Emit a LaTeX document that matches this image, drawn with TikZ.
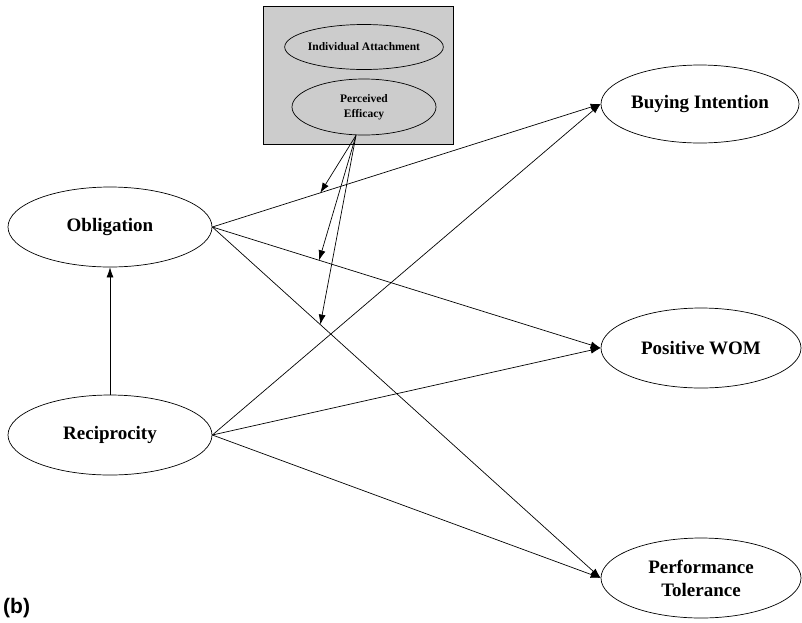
\documentclass[tikz,border=0pt]{standalone}
\usepackage{fontspec}
\setmainfont{Liberation Serif}
\setsansfont{Liberation Sans}
\usetikzlibrary{arrows.meta,calc,shapes.geometric}
\begin{document}
\begin{tikzpicture}[x=1pt,y=-1pt,
  lat/.style={draw,ellipse,line width=0.7pt,align=center,font=\bfseries\fontsize{19}{21}\selectfont,inner sep=0pt},
  modl/.style={draw,ellipse,line width=0.7pt,fill=boxgray,align=center,font=\bfseries\fontsize{11.5}{15}\selectfont,inner sep=0pt},
  path/.style={line width=0.7pt,-{Latex[length=10pt,width=7pt]}}]
\definecolor{boxgray}{RGB}{204,204,204}
\useasboundingbox (0,0) rectangle (802,622);
\node (box) [draw,fill=boxgray,line width=0.8pt,minimum width=190pt,minimum height=138pt,inner sep=0pt] at (358,75) {};
\node (ia) [modl,minimum width=144pt,minimum height=45pt] at (364,47) {Individual Attachment};
\node (pe) [modl,minimum width=144pt,minimum height=56pt] at (364,107) {Perceived\\Efficacy};
\node (obl) [lat,minimum width=204pt,minimum height=80pt] at (110,227) {Obligation};
\node (rec) [lat,minimum width=204pt,minimum height=80pt] at (110,435) {Reciprocity};
\node (bi) [lat,minimum width=198pt,minimum height=78pt] at (700,104) {Buying Intention};
\node (wom) [lat,minimum width=200pt,minimum height=80pt] at (701,348) {Positive WOM};
\node (pt) [lat,minimum width=200pt,minimum height=80pt,font=\bfseries\fontsize{19}{23}\selectfont] at (701,578) {Performance\\Tolerance};
\node (lab) [font=\sffamily\bfseries\fontsize{21}{23}\selectfont,anchor=west,inner sep=0pt] at (3,608) {(b)};
\draw[path] (rec.north) -- (obl.south);
\draw[path] (obl.east) -- (bi.west);
\draw[path] (obl.east) -- (wom.west);
\draw[path] (obl.east) -- (pt.west);
\draw[path] (rec.east) -- (bi.west);
\draw[path] (rec.east) -- (wom.west);
\draw[path] (rec.east) -- (pt.west);
\coordinate (src) at ($(pe.south)+(-8,0)$);
\coordinate (m1) at ($(obl.east)!0.278!(bi.west)$);
\coordinate (m2) at ($(obl.east)!0.275!(wom.west)$);
\coordinate (m3) at ($(obl.east)!0.278!(pt.west)$);
\draw[path] (src) -- (m1);
\draw[path] (src) -- (m2);
\draw[path] (src) -- (m3);
\end{tikzpicture}
\end{document}
